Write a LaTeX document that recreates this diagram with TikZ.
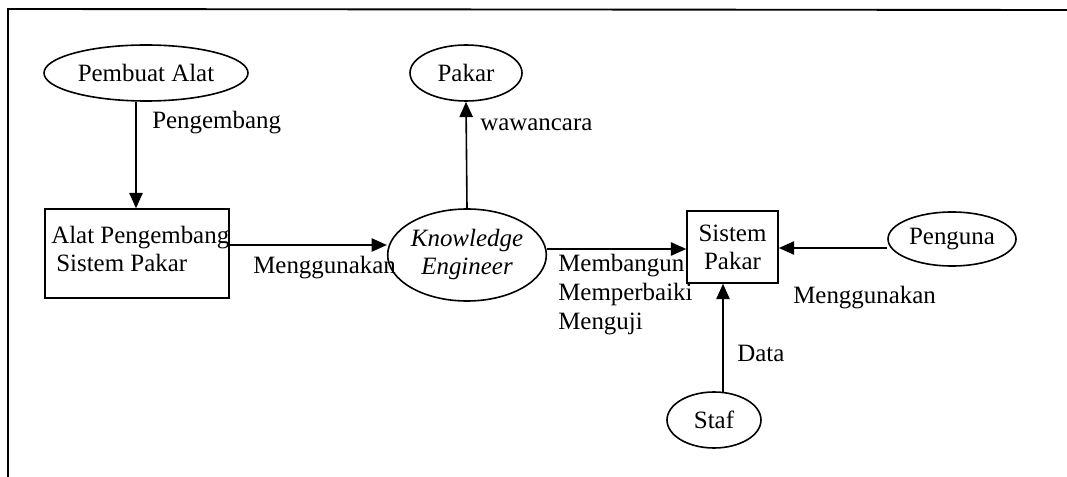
\documentclass[tikz,border=0pt]{standalone}
\usepackage{fontspec}
\setmainfont{Liberation Serif}
\usetikzlibrary{shapes.geometric,arrows.meta}

\tikzset{
  base/.style={font=\fontsize{18.7pt}{21pt}\selectfont},
  actor/.style={base, draw, ellipse, inner sep=0pt, line width=1.2pt, align=center},
  block/.style={base, draw, rectangle, inner sep=0pt, line width=1.2pt, align=center},
  lbl/.style={base, inner sep=0pt, anchor=mid west},
  flow/.style={line width=1.2pt, -{Triangle[length=11.5pt,width=10pt]}},
}

\begin{document}
\begin{tikzpicture}[x=0.75pt, y=-0.75pt]
  \useasboundingbox (0,0) rectangle (1067,477);

  % page frame
  \coordinate (tl) at (8,9);
  \coordinate (tr) at (1067,10);
  \coordinate (bl) at (8,477);
  \draw[line width=1.4pt] (bl) -- (tl) -- (tr);

  % actors and systems
  \node[actor, minimum width=153pt, minimum height=42pt] (pembuat) at (146,73) {Pembuat Alat};
  \node[actor, minimum width=84pt, minimum height=42pt] (pakar) at (466,73) {Pakar};
  \node[actor, minimum width=109.5pt, minimum height=69pt] (ke) at (467,255) {\itshape Knowledge\\\itshape Engineer};
  \node[actor, minimum width=96pt, minimum height=40.5pt] (penguna) at (952,239) {Penguna};
  \node[actor, minimum width=70.5pt, minimum height=42pt] (staf) at (714,420) {Staf};

  \node[block, minimum width=138pt, minimum height=66.75pt] (alat) at (137,253.5) {};
  \node[lbl] (alat1) at (51,240) {Alat Pengembang};
  \node[lbl] (alat2) at (56,268) {Sistem Pakar};

  \node[block, minimum width=68.25pt, minimum height=54pt] (sistem) at (732.5,247) {Sistem\\Pakar};

  % connectors
  \draw[flow] (pembuat.south -| 136,0) -- (alat.north -| 136,0);
  \draw[flow] (ke.north) -- (pakar.south);
  \draw[flow] (alat.east |- 0,245) -- (ke.west |- 0,245);
  \draw[flow] (ke.east |- 0,249) -- (sistem.west |- 0,249);
  \draw[flow] (penguna.west |- 0,248) -- (sistem.east |- 0,248);
  \coordinate (staftop) at (723,393);
  \draw[flow] (staftop) -- (sistem.south -| staftop);

  % connector labels
  \node[lbl] (l1) at (152,125) {Pengembang};
  \node[lbl] (l2) at (480,127) {wawancara};
  \node[lbl] (l3) at (253,270) {Menggunakan};
  \node[lbl] (l4) at (558,268) {Membangun};
  \node[lbl] (l5) at (558,297) {Memperbaiki};
  \node[lbl] (l6) at (558,326) {Menguji};
  \node[lbl] (l7) at (793,300) {Menggunakan};
  \node[lbl] (l8) at (737,358) {Data};
\end{tikzpicture}
\end{document}
